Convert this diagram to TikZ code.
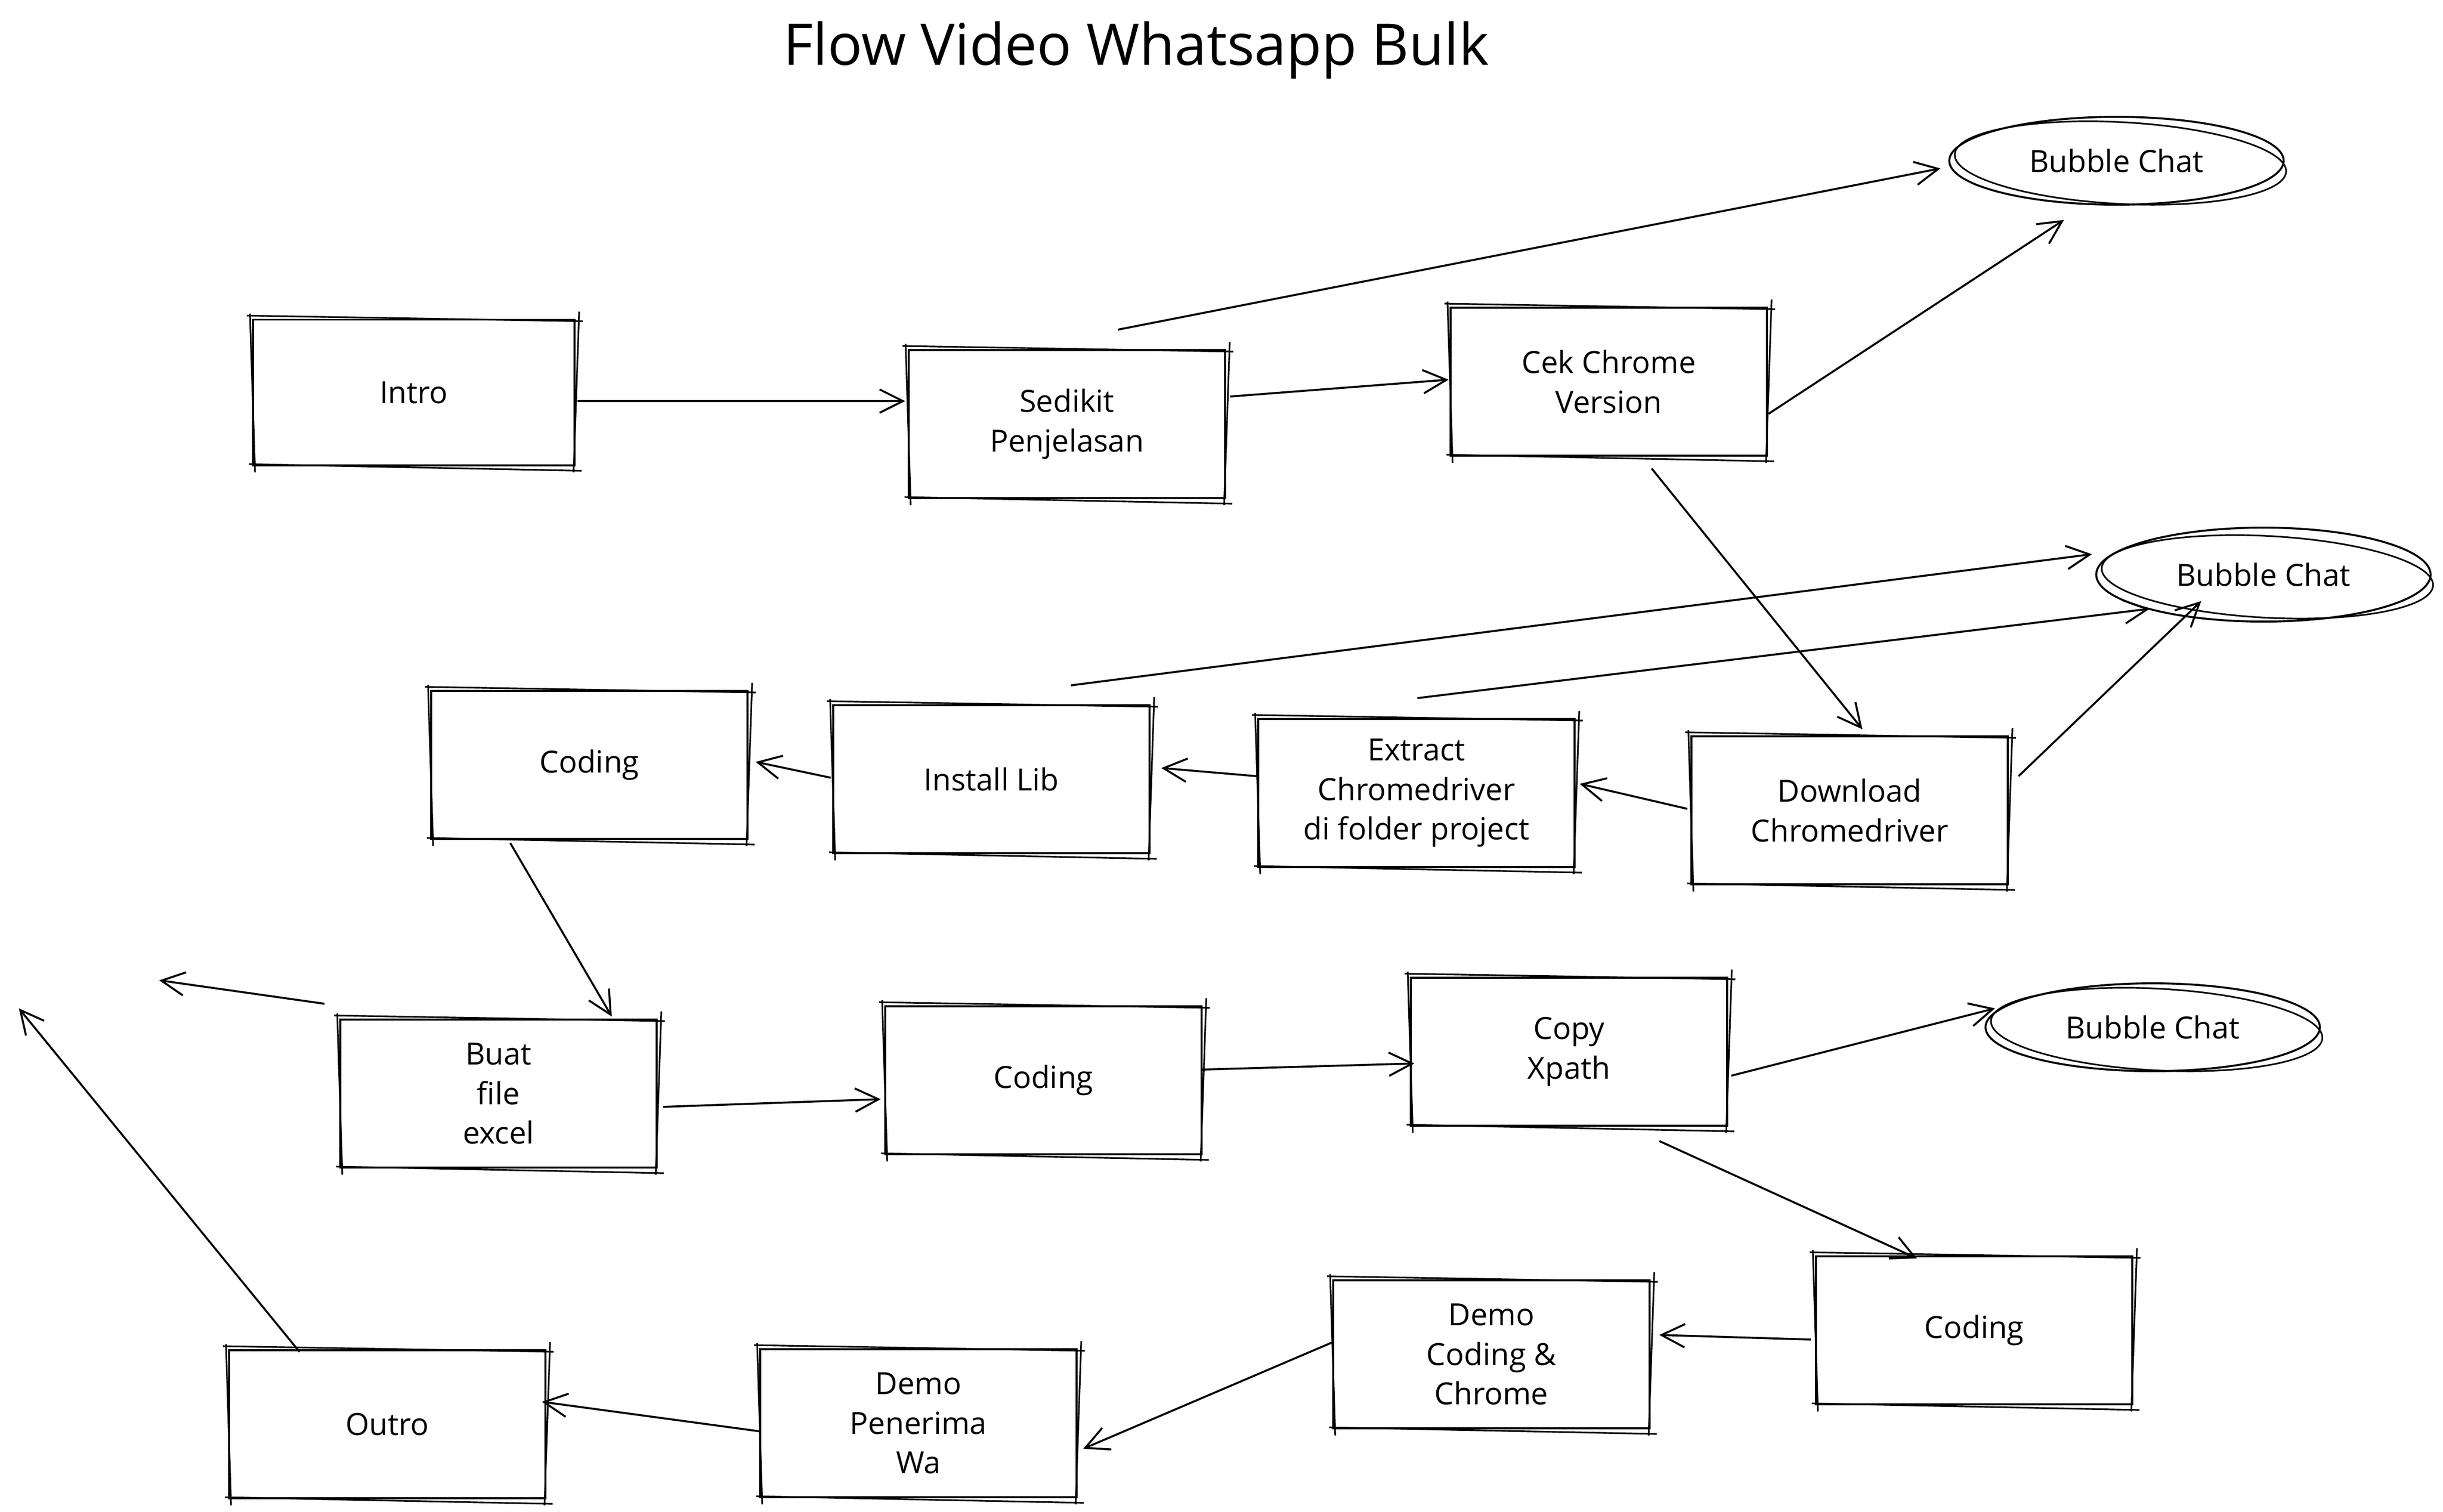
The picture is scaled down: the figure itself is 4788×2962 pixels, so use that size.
\documentclass[tikz,border=0pt]{standalone}
\usepackage{fontspec}
\setmainfont{Open Sans}
\usetikzlibrary{arrows.meta,calc,shapes.geometric}
\newcommand{\boxfont}{\fontsize{17pt}{22pt}\selectfont}
\newcommand{\titlefont}{\fontsize{32pt}{38pt}\selectfont}
\tikzset{
  box/.style={draw, line width=1.1pt, minimum width=6.2cm, minimum height=2.9cm,
    inner sep=0pt, align=center, font=\boxfont,
    append after command={\pgfextra{
      \draw[line width=0.9pt]
        ($(\tikzlastnode.north west)+(-10,-6)$) -- ($(\tikzlastnode.north east)+(14,5)$)
        ($(\tikzlastnode.north east)+(7,-14)$) -- ($(\tikzlastnode.south east)+(-4,12)$)
        ($(\tikzlastnode.south east)+(12,9)$) -- ($(\tikzlastnode.south west)+(-6,-4)$)
        ($(\tikzlastnode.south west)+(6,12)$) -- ($(\tikzlastnode.north west)+(-4,-10)$);
    }}},
  bubble/.style={draw, ellipse, line width=1.1pt, minimum width=6.55cm, minimum height=1.72cm,
    inner sep=0pt, font=\boxfont,
    append after command={\pgfextra{
      \draw[line width=0.9pt, rotate around={-3:(\tikzlastnode.center)}]
        ($(\tikzlastnode.center)+(8,4)$) ellipse [x radius=3.25cm, y radius=0.8cm];
    }}},
  arr/.style={line width=1.1pt, -{Straight Barb[length=13pt,width=13pt]}},
  ttl/.style={font=\titlefont}
}
\begin{document}
\begin{tikzpicture}[x=0.01cm,y=-0.01cm]
\fill[white] (0,0) rectangle (4788,2962);
\useasboundingbox (0,0) rectangle (4788,2962);

\node[ttl] (title) at (2227,98) {Flow Video Whatsapp Bulk};

\node[box, minimum width=6.3cm, minimum height=2.85cm] (intro) at (811,769) {Intro};
\node[box] (sedikit) at (2091,831) {Sedikit\\Penjelasan};
\node[box] (cek) at (3153,748) {Cek Chrome\\Version};
\node[bubble] (b1) at (4148,315) {Bubble Chat};
\node[bubble, minimum height=1.84cm] (b2) at (4436,1126) {Bubble Chat};
\node[box] (coding2) at (1155,1499) {Coding};
\node[box] (install) at (1943,1527) {Install Lib};
\node[box] (extract) at (2776,1554) {Extract\\Chromedriver\\di folder project};
\node[box] (download) at (3625,1588) {Download\\Chromedriver};
\node[box] (buat) at (977,2143) {Buat\\file\\excel};
\node[box] (coding3) at (2045,2117) {Coding};
\node[box] (copy) at (3075,2061) {Copy\\Xpath};
\node[bubble] (b3) at (4219,2013) {Bubble Chat};
\node[box] (coding4) at (3869,2607) {Coding};
\node[box] (democ) at (2923,2654) {Demo\\Coding \&\\Chrome};
\node[box] (demop) at (1800,2789) {Demo\\Penerima\\Wa};
\node[box] (outro) at (759,2791) {Outro};

\coordinate (cfree) at (2191,646);
\coordinate (gfree) at (2778,1368);
\coordinate (hfree) at (2099,1343);
\coordinate (mstart) at (636,1967);
\coordinate (mend) at (312,1921);
\coordinate (uend) at (37,1976);

\draw[arr] ($(intro)+(321,17)$) -- ($(sedikit)+(-317,-45)$);
\draw[arr] ($(sedikit)+(320,-54)$) -- ($(cek)+(-314,-4)$);
\draw[arr] (cfree) -- ($(b1)+(-345,15)$);
\draw[arr] ($(cek)+(313,63)$) -- ($(b1)+(-103,116)$);
\draw[arr] ($(cek)+(84,170)$) -- ($(download)+(25,-159)$);
\draw[arr] ($(download)+(331,-67)$) -- ($(b2)+(-122,52)$);
\draw[arr] (gfree) -- ($(b2)+(-223,67)$);
\draw[arr] (hfree) -- ($(b2)+(-336,-40)$);
\draw[arr] ($(download)+(-318,-3)$) -- ($(extract)+(320,-18)$);
\draw[arr] ($(extract)+(-313,-33)$) -- ($(install)+(333,-22)$);
\draw[arr] ($(install)+(-315,-3)$) -- ($(coding2)+(326,-6)$);
\draw[arr] ($(coding2)+(-155,153)$) -- ($(buat)+(222,-151)$);
\draw[arr] (mstart) -- (mend);
\draw[arr] ($(buat)+(323,26)$) -- ($(coding3)+(-319,37)$);
\draw[arr] ($(coding3)+(311,-21)$) -- ($(copy)+(-303,23)$);
\draw[arr] ($(copy)+(318,47)$) -- ($(b3)+(-309,-37)$);
\draw[arr] ($(copy)+(177,175)$) -- ($(coding4)+(-112,-141)$);
\draw[arr] ($(coding4)+(-320,18)$) -- ($(democ)+(329,-38)$);
\draw[arr] ($(democ)+(-313,-23)$) -- ($(demop)+(323,50)$);
\draw[arr] ($(demop)+(-310,16)$) -- ($(outro)+(303,-44)$);
\draw[arr] ($(outro)+(-172,-142)$) -- (uend);
\end{tikzpicture}
\end{document}
